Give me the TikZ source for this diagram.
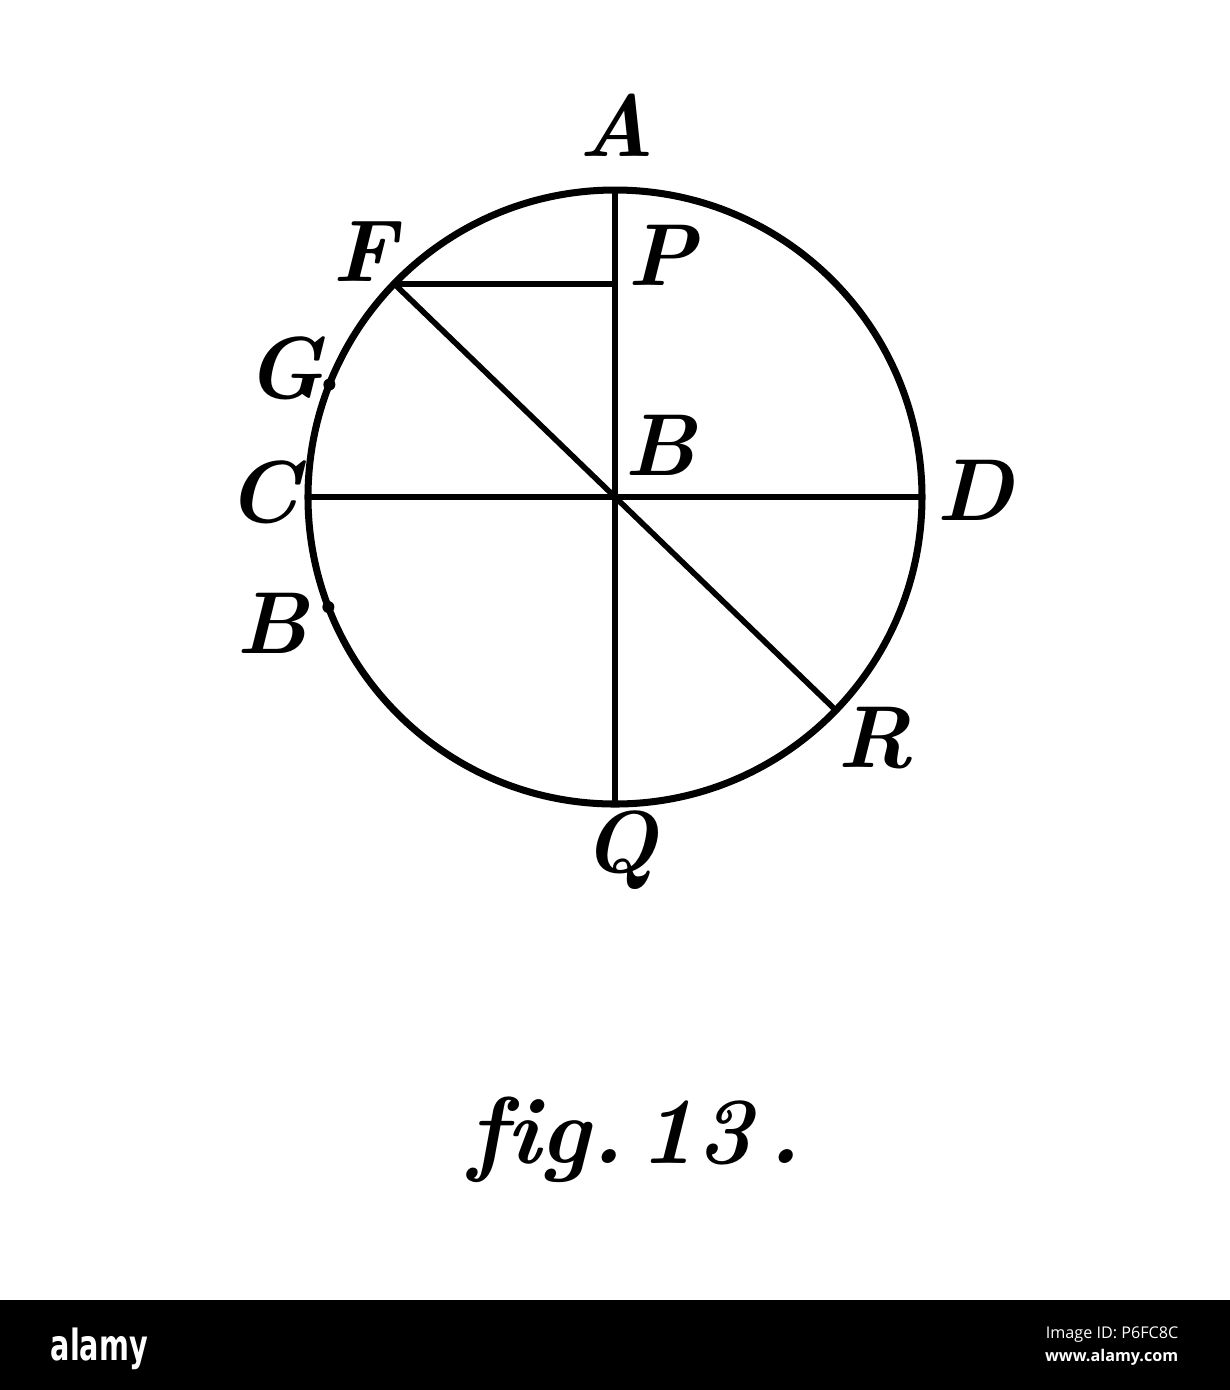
\documentclass[tikz,border=0pt]{standalone}
\usepackage{fontspec}
\usetikzlibrary{calc}
\newfontfamily\logofont[FakeStretch=0.67]{DejaVu Sans}
\newfontfamily\stampfont{Open Sans}

\begin{document}
\begin{tikzpicture}[
  lbl/.style={font=\fontsize{25}{30}\selectfont\bfseries\itshape, inner sep=0pt},
  rim/.style={line width=2pt},
  chord/.style={line width=1.6pt},
  nub/.style={fill=black}]

% white page, same size as the plate
\useasboundingbox[fill=white] (0,0) rectangle (12.3,-13.9);

% centre and points on the circle
\coordinate (B) at (6.15,-4.97);
\coordinate (A) at ($(B)+(90:3.07)$);
\coordinate (Q) at ($(B)+(270:3.07)$);
\coordinate (C) at ($(B)+(180:3.07)$);
\coordinate (D) at ($(B)+(0:3.07)$);
\coordinate (F) at ($(B)+(136:3.07)$);
\coordinate (R) at ($(B)+(-44:3.07)$);
\coordinate (G) at ($(B)+(158.5:3.07)$);
\coordinate (Bl) at ($(B)+(201:3.07)$);
\coordinate (P) at (A |- F);

% the circle
\draw[rim] (B) circle (3.07);

% diameters and the sine
\draw[chord] (A) -- (Q);
\draw[chord] (C) -- (D);
\draw[chord] (F) -- (R);
\draw[chord] (F) -- (P);

% small marks on the rim
\fill[nub] (G) circle (0.06);
\fill[nub] (Bl) circle (0.06);

% letters
\node[lbl] (lA) at (6.17,-1.25) {A};
\node[lbl] (lF) at (3.64,-2.52) {F};
\node[lbl] (lP) at (6.62,-2.55) {P};
\node[lbl] (lG) at (2.85,-3.68) {G};
\node[lbl] (lC) at (2.63,-4.92) {C};
\node[lbl] (lBl) at (2.72,-6.23) {B};
\node[lbl] (lB) at (6.60,-4.45) {B};
\node[lbl] (lD) at (9.75,-4.90) {D};
\node[lbl] (lR) at (8.75,-7.38) {R};
\node[lbl] (lQ) at (6.20,-8.50) {Q};

% caption
\node[lbl, anchor=base, font=\fontsize{27}{32}\selectfont\bfseries\itshape] (caption) at (6.35,-11.63) {f\kern0pt ig.\,13\,.};

% stock bar along the foot
\fill[black] (0,-13.0) rectangle (12.3,-13.9);
\node[anchor=base west, inner sep=0pt, text=white, font=\logofont\bfseries\fontsize{12.2}{14}\selectfont] (logo) at (0.5,-13.6) {alamy};
\node[anchor=base east, inner sep=0pt, text=white, font=\stampfont\fontsize{4.6}{6}\selectfont] (imgid) at (11.79,-13.38) {Image ID: P6FC8C};
\node[anchor=base east, inner sep=0pt, text=white, font=\stampfont\bfseries\fontsize{4.6}{6}\selectfont] (site) at (11.79,-13.61) {www.alamy.com};

\end{tikzpicture}
\end{document}
